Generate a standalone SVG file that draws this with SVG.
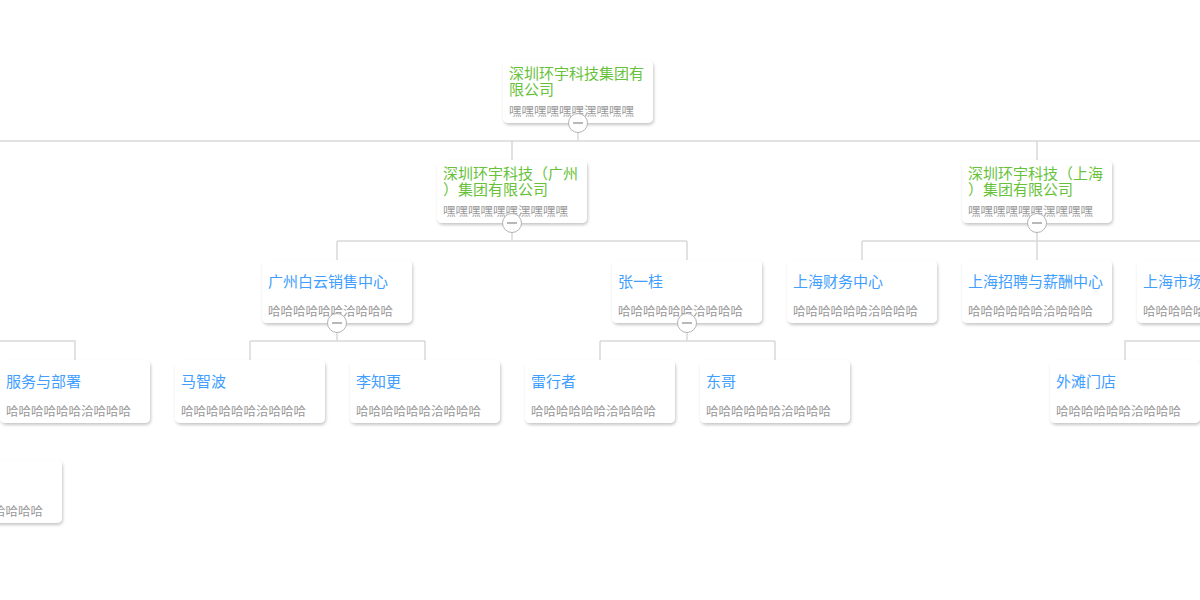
<svg xmlns="http://www.w3.org/2000/svg" width="1200" height="600" viewBox="0 0 1200 600">
<defs>
<filter id="sh" x="-10%" y="-20%" width="125%" height="150%">
<feDropShadow dx="1" dy="2" stdDeviation="1.6" flood-color="#000" flood-opacity="0.22"/>
</filter>
<style>
.box{fill:#fff;filter:url(#sh)}
.t{font-family:"Noto Sans CJK SC","Noto Sans",sans-serif;font-size:15px}
.g{fill:#67c23a}
.b{fill:#409eff}
.d{font-family:"Noto Sans CJK SC","Noto Sans",sans-serif;font-size:12.5px;fill:#999}
.ln{fill:none;stroke:#d9d9d9;stroke-width:1.5}
.btn circle{fill:#fff;stroke:#b3b3b3;stroke-width:1}
.btn line{stroke:#a0a0a0;stroke-width:1.5}
</style>
</defs>
<rect width="1200" height="600" fill="#fff"/>
<g id="connectors">
<path class="ln" d="M578 123V141M0 141H1200M512 141V160M1037 141V160"/>
<path class="ln" d="M512 223V241M337 241H687M337 241V260M687 241V260"/>
<path class="ln" d="M1037 223V241M862 241H1200M862 241V260M1037 241V260M1212 241V260"/>
<path class="ln" d="M337 323V341M250 341H425M250 341V360M425 341V360"/>
<path class="ln" d="M687 323V341M600 341H775M600 341V360M775 341V360"/>
<path class="ln" d="M0 341H75V360M1200 341H1125V360"/>
</g>
<g id="n-root"><rect class="box" x="503" y="60" width="150" height="63" rx="5"/><text class="t g" x="509" y="79">深圳环宇科技集团有</text><text class="t g" x="509" y="94.5">限公司</text><text class="d" x="509" y="116">嘿嘿嘿嘿嘿嘿潶嘿嘿嘿</text></g>
<g id="n-gz"><rect class="box" x="437" y="160" width="150" height="63" rx="5"/><text class="t g" x="443" y="179">深圳环宇科技（广州</text><text class="t g" x="443" y="194.5">）集团有限公司</text><text class="d" x="443" y="216">嘿嘿嘿嘿嘿嘿潶嘿嘿嘿</text></g>
<g id="n-sh"><rect class="box" x="962" y="160" width="150" height="63" rx="5"/><text class="t g" x="968" y="179">深圳环宇科技（上海</text><text class="t g" x="968" y="194.5">）集团有限公司</text><text class="d" x="968" y="216">嘿嘿嘿嘿嘿嘿潶嘿嘿嘿</text></g>
<g id="n-by"><rect class="box" x="262" y="260" width="150" height="63" rx="5"/><text class="t b" x="268" y="287">广州白云销售中心</text><text class="d" x="268" y="316">哈哈哈哈哈哈洽哈哈哈</text></g>
<g id="n-zyg"><rect class="box" x="612" y="260" width="150" height="63" rx="5"/><text class="t b" x="618" y="287">张一桂</text><text class="d" x="618" y="316">哈哈哈哈哈哈洽哈哈哈</text></g>
<g id="n-shcw"><rect class="box" x="787" y="260" width="150" height="63" rx="5"/><text class="t b" x="793" y="287">上海财务中心</text><text class="d" x="793" y="316">哈哈哈哈哈哈洽哈哈哈</text></g>
<g id="n-shzp"><rect class="box" x="962" y="260" width="150" height="63" rx="5"/><text class="t b" x="968" y="287">上海招聘与薪酬中心</text><text class="d" x="968" y="316">哈哈哈哈哈哈洽哈哈哈</text></g>
<g id="n-shsc"><rect class="box" x="1137" y="260" width="150" height="63" rx="5"/><text class="t b" x="1143" y="287">上海市场</text><text class="d" x="1143" y="316">哈哈哈哈哈哈洽哈哈哈</text></g>
<g id="n-fw"><rect class="box" x="0" y="360" width="150" height="63" rx="5"/><text class="t b" x="6" y="387">服务与部署</text><text class="d" x="6" y="416">哈哈哈哈哈哈洽哈哈哈</text></g>
<g id="n-mzb"><rect class="box" x="175" y="360" width="150" height="63" rx="5"/><text class="t b" x="181" y="387">马智波</text><text class="d" x="181" y="416">哈哈哈哈哈哈洽哈哈哈</text></g>
<g id="n-lzg"><rect class="box" x="350" y="360" width="150" height="63" rx="5"/><text class="t b" x="356" y="387">李知更</text><text class="d" x="356" y="416">哈哈哈哈哈哈洽哈哈哈</text></g>
<g id="n-lxz"><rect class="box" x="525" y="360" width="150" height="63" rx="5"/><text class="t b" x="531" y="387">雷行者</text><text class="d" x="531" y="416">哈哈哈哈哈哈洽哈哈哈</text></g>
<g id="n-dg"><rect class="box" x="700" y="360" width="150" height="63" rx="5"/><text class="t b" x="706" y="387">东哥</text><text class="d" x="706" y="416">哈哈哈哈哈哈洽哈哈哈</text></g>
<g id="n-wt"><rect class="box" x="1050" y="360" width="150" height="63" rx="5"/><text class="t b" x="1056" y="387">外滩门店</text><text class="d" x="1056" y="416">哈哈哈哈哈哈洽哈哈哈</text></g>
<g id="n-l5"><rect class="box" x="-88" y="460" width="150" height="63" rx="5"/><text class="d" x="-82" y="516">哈哈哈哈哈哈洽哈哈哈</text></g>
<g id="buttons">
<g class="btn"><circle cx="578" cy="123" r="9.5"/><line x1="573" y1="123" x2="583" y2="123"/></g>
<g class="btn"><circle cx="512" cy="223" r="9.5"/><line x1="507" y1="223" x2="517" y2="223"/></g>
<g class="btn"><circle cx="1037" cy="223" r="9.5"/><line x1="1032" y1="223" x2="1042" y2="223"/></g>
<g class="btn"><circle cx="337" cy="323" r="9.5"/><line x1="332" y1="323" x2="342" y2="323"/></g>
<g class="btn"><circle cx="687" cy="323" r="9.5"/><line x1="682" y1="323" x2="692" y2="323"/></g>
</g>
</svg>
